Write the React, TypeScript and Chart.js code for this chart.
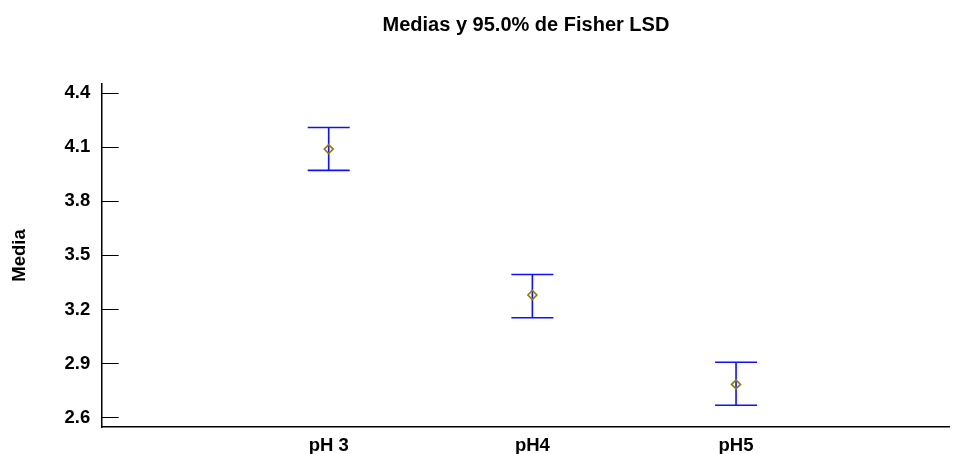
import React, { useEffect, useRef } from 'react';
import { Chart, registerables } from 'chart.js';

Chart.register(...registerables);

// ---- data ----
const categories = ['pH 3', 'pH4', 'pH5'];
const means = [4.089, 3.28, 2.784];
const upperLimits = [4.209, 3.394, 2.907];
const lowerLimits = [3.971, 3.154, 2.669];
const yTickValues = [2.6, 2.9, 3.2, 3.5, 3.8, 4.1, 4.4];
const titleText = 'Medias y 95.0% de Fisher LSD';
const yAxisTitle = 'Media';

const FONT_FAMILY = '"Liberation Sans", Arial, Helvetica, sans-serif';
const CAP_HALF = 21;

const errorBarsPlugin = {
  id: 'errorBars',
  beforeDatasetsDraw(chart: any) {
    const { ctx, scales } = chart;
    const xs = scales.x;
    const ys = scales.y;
    ctx.save();
    ctx.strokeStyle = '#1010ff';
    ctx.lineWidth = 1.6;
    categories.forEach((_, i) => {
      const px = xs.getPixelForValue(i + 1);
      const pu = ys.getPixelForValue(upperLimits[i]);
      const pl = ys.getPixelForValue(lowerLimits[i]);
      ctx.beginPath();
      ctx.moveTo(px, pu);
      ctx.lineTo(px, pl);
      ctx.moveTo(px - CAP_HALF, pu);
      ctx.lineTo(px + CAP_HALF, pu);
      ctx.moveTo(px - CAP_HALF, pl);
      ctx.lineTo(px + CAP_HALF, pl);
      ctx.stroke();
    });
    ctx.restore();
  },
};

export default function App() {
  const canvasRef = useRef<HTMLCanvasElement | null>(null);

  useEffect(() => {
    document.body.style.margin = '0';
    const canvas = canvasRef.current;
    if (!canvas) return;
    const font = { family: FONT_FAMILY, size: 18.5, weight: 'bold' as const };
    const chart = new Chart(canvas, {
      type: 'scatter',
      data: {
        datasets: [
          {
            data: means.map((m, i) => ({ x: i + 1, y: m })),
            showLine: false,
            pointStyle: 'rectRot',
            pointRadius: 4.5,
            pointHoverRadius: 4.5,
            pointBorderWidth: 1.6,
            borderColor: '#8f7f00',
            pointBorderColor: '#8f7f00',
            backgroundColor: 'rgba(0,0,0,0)',
            pointBackgroundColor: 'rgba(0,0,0,0)',
          },
        ],
      },
      options: {
        responsive: false,
        animation: false,
        devicePixelRatio: 1,
        layout: { padding: 0 },
        plugins: {
          legend: { display: false },
          tooltip: { enabled: false },
          title: {
            display: true,
            text: titleText,
            color: '#000',
            fullSize: false,
            font: { family: FONT_FAMILY, size: 20, weight: 'bold' },
            padding: { top: 13.5, bottom: 46.5 },
          },
        },
        scales: {
          x: {
            type: 'linear',
            min: -0.113,
            max: 4.05,
            afterBuildTicks: (s: any) => {
              s.ticks = categories.map((_, i) => ({ value: i + 1 }));
            },
            afterFit: (s: any) => {
              s.height = 27;
              s.paddingLeft = 0;
              s.paddingRight = 0;
            },
            ticks: {
              autoSkip: false,
              maxRotation: 0,
              minRotation: 0,
              padding: 8,
              color: '#000',
              font,
              callback: (v: any) => categories[Math.round(Number(v)) - 1] ?? '',
            },
            grid: { drawOnChartArea: false, drawTicks: false, color: '#000' },
            border: { display: true, color: '#000', width: 1.5 },
          },
          y: {
            type: 'linear',
            min: 2.548,
            max: 4.45,
            afterBuildTicks: (s: any) => {
              s.ticks = yTickValues.map((v) => ({ value: v }));
            },
            afterFit: (s: any) => {
              s.width = 102;
              s.paddingTop = 0;
              s.paddingBottom = 0;
            },
            ticks: {
              padding: 28.4,
              color: '#000',
              font,
              callback: (v: any) => Number(v).toFixed(1),
            },
            grid: {
              drawOnChartArea: false,
              drawTicks: true,
              tickLength: -16.7,
              tickWidth: 1,
              color: '#000',
            },
            border: { display: true, color: '#000', width: 1.5 },
            title: {
              display: true,
              text: yAxisTitle,
              color: '#000',
              font,
              padding: { top: 9, bottom: 0 },
            },
          },
        },
      },
      plugins: [errorBarsPlugin],
    });
    return () => chart.destroy();
  }, []);

  return <canvas ref={canvasRef} width={956} height={454} style={{ display: 'block' }} />;
}
